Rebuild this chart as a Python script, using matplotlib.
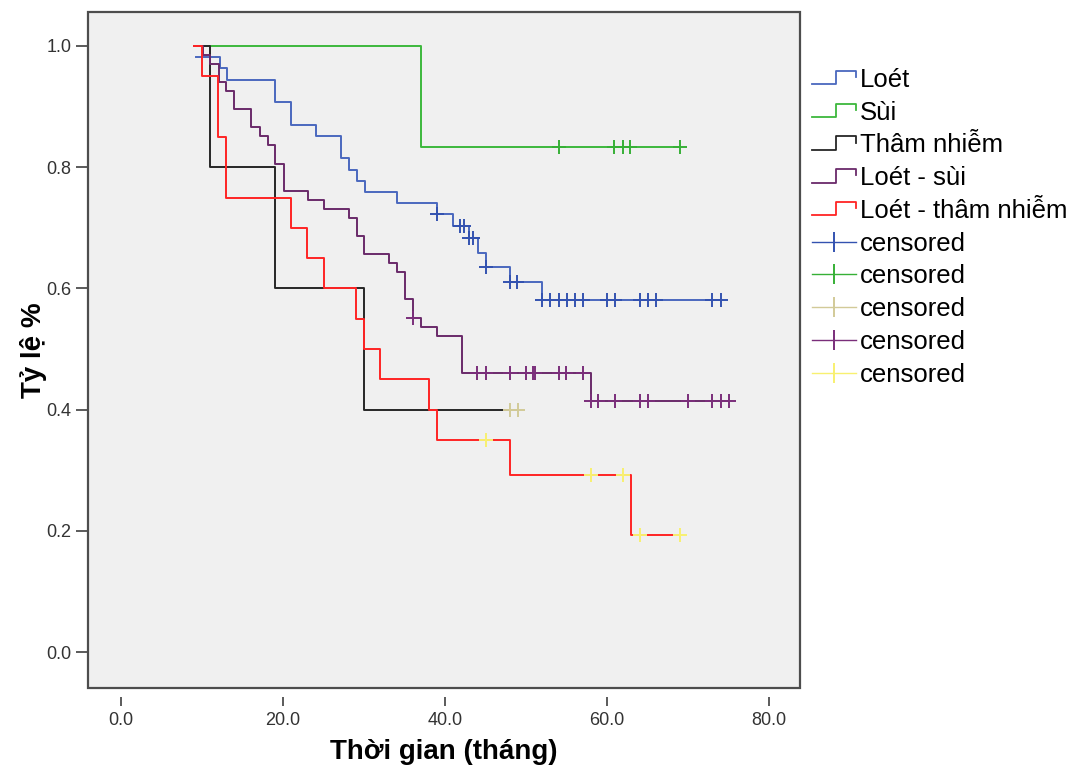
import numpy as np
import matplotlib
matplotlib.use("Agg")
import matplotlib.pyplot as plt
from matplotlib.lines import Line2D
from matplotlib.legend_handler import HandlerBase
from matplotlib.patches import Rectangle

plt.rcParams['font.family'] = ['Liberation Sans', 'DejaVu Sans']

# step points (time in months, survival), censored times per group
loet_t = [9.2, 12.2, 13.1, 19.0, 21.0, 24.1, 27.1, 28.1, 29.1, 30.1, 34.1,
          39.0, 41.0, 42.9, 44.1, 45.0, 48.0, 52.0]
loet_s = [0.981, 0.963, 0.944, 0.907, 0.870, 0.852, 0.815, 0.796, 0.778, 0.759,
          0.741, 0.722, 0.703, 0.684, 0.658, 0.636, 0.611, 0.581]
loet_c = [39.0, 41.9, 42.3, 42.9, 43.4, 45.0, 48.0, 48.9, 52.0, 53.0, 54.1,
          55.1, 56.0, 57.0, 60.0, 61.0, 64.0, 65.0, 66.0, 73.0, 74.0]

sui_t = [11.0, 37.0]
sui_s = [1.0, 0.833]
sui_c = [54.0, 60.9, 61.9, 62.8, 69.0]

tham_t = [9.0, 11.0, 19.0, 30.0]
tham_s = [1.0, 0.8, 0.6, 0.4]
tham_c = [48.0, 49.0]

loetsui_t = [9.0, 10.1, 11.0, 12.1, 13.0, 14.0, 16.1, 17.1, 18.1, 19.0, 20.1,
             23.1, 25.1, 28.1, 29.1, 30.0, 33.1, 34.1, 35.1, 36.0, 37.0, 39.0,
             42.1, 58.0]
loetsui_s = [1.0, 0.985, 0.970, 0.940, 0.925, 0.896, 0.866, 0.851, 0.836, 0.806,
             0.761, 0.746, 0.731, 0.716, 0.687, 0.657, 0.642, 0.627, 0.582, 0.552,
             0.537, 0.521, 0.460, 0.414]
loetsui_c = [36.0, 43.9, 45.0, 48.0, 50.0, 50.9, 51.1, 54.0, 54.9, 57.0, 58.0,
             58.9, 61.0, 64.0, 65.0, 70.0, 73.0, 74.0, 75.0]

loettham_t = [9.0, 10.0, 12.0, 13.0, 21.0, 23.0, 25.0, 29.0, 30.0, 32.0, 38.0,
              39.0, 48.0, 63.0]
loettham_s = [1.0, 0.95, 0.85, 0.75, 0.70, 0.65, 0.60, 0.55, 0.50, 0.45, 0.40,
              0.35, 0.292, 0.194]
loettham_c = [45.0, 58.0, 62.0, 64.0, 69.0]

group_names = ["Loét", "Sùi", "Thâm nhiễm", "Loét - sùi", "Loét - thâm nhiễm"]
line_colors = ["#4A68BE", "#3DB83D", "#262626", "#6A2A6A", "#FF2424"]
cens_colors = ["#3352B0", "#36B036", "#D2CA98", "#7A2E7A", "#F8F070"]

groups = [(loet_t, loet_s, loet_c), (sui_t, sui_s, sui_c),
          (tham_t, tham_s, tham_c), (loetsui_t, loetsui_s, loetsui_c),
          (loettham_t, loettham_s, loettham_c)]


class StepHandler(HandlerBase):
    # little step glyph used by the survival-curve legend entries
    def create_artists(self, legend, orig_handle, xdescent, ydescent,
                       width, height, fontsize, trans):
        xs = np.array([0.0, 0.55, 0.55, 1.0, 1.0]) * width - xdescent
        ys = np.array([0.15, 0.15, 0.9, 0.9, 0.55]) * height - ydescent
        ln = Line2D(xs, ys, color=orig_handle.get_color(), lw=1.3)
        ln.set_transform(trans)
        return [ln]


fig = plt.figure(figsize=(10.79, 7.69), dpi=100)
ax = fig.add_axes([88 / 1079, 1 - 688 / 769, 712 / 1079, 676 / 769])
ax.set_facecolor("#F0F0F0")

for (t, s, c), col in zip(groups, line_colors):
    t_end = max(max(c), t[-1])
    ax.step(list(t) + [t_end], list(s) + [s[-1]], where="post",
            color=col, lw=1.4, zorder=2)

for (t, s, c), col in zip(groups, cens_colors):
    idx = np.searchsorted(t, c, side="right") - 1
    ax.plot(c, np.array(s)[idx], linestyle="none", marker="+",
            markersize=10, markeredgewidth=1.4, color=col, zorder=3)

ax.set_xlim(-4.07, 83.8)
ax.set_ylim(-0.059, 1.056)

# frame around plotting area
for sp in ax.spines.values():
    sp.set_visible(False)
ax.add_patch(Rectangle((0, 0), 1, 1, transform=ax.transAxes, fill=False,
                       edgecolor="#4D4D4D", lw=1.6, zorder=5, clip_on=False))

ax.set_yticks([0.0, 0.2, 0.4, 0.6, 0.8, 1.0])
ax.set_yticklabels(["0.0", "0.2", "0.4", "0.6", "0.8", "1.0"])
ax.tick_params(axis="y", length=9, width=1.3, color="#4D4D4D", pad=3,
               labelsize=13, labelcolor="#333333")
ax.tick_params(axis="x", bottom=False, labelbottom=False)

# x ticks sit slightly below the frame, without an axis line
sec = ax.secondary_xaxis(-0.0133)
sec.spines["bottom"].set_visible(False)
sec.set_xticks([0, 20, 40, 60, 80])
sec.set_xticklabels(["0.0", "20.0", "40.0", "60.0", "80.0"])
sec.tick_params(axis="x", length=6.5, width=1.3, color="#4D4D4D", pad=4,
                labelsize=13, labelcolor="#333333")

ax.set_xlabel("Thời gian (tháng)", fontsize=20, fontweight="bold")
ax.xaxis.set_label_coords(0.5, -0.076)
ax.set_ylabel("Tỷ lệ %", fontsize=20, fontweight="bold")
ax.yaxis.set_label_coords(-0.058, 0.5)

handles = [Line2D([], [], color=c) for c in line_colors]
labels = list(group_names)
for c in cens_colors:
    handles.append(Line2D([], [], color=c, lw=1.0, marker="|",
                          markersize=14, markeredgewidth=1.4))
    labels.append("censored")

handler_map = {h: StepHandler() for h in handles[:5]}
fig.legend(handles, labels, handler_map=handler_map, loc="upper left",
           bbox_to_anchor=(812 / 1079, 1 - 68 / 769), frameon=False,
           fontsize=18.5, handlelength=1.7, handletextpad=0.15,
           labelspacing=0.34, borderpad=0, borderaxespad=0, numpoints=1)

fig.savefig("out.png", dpi=100)
